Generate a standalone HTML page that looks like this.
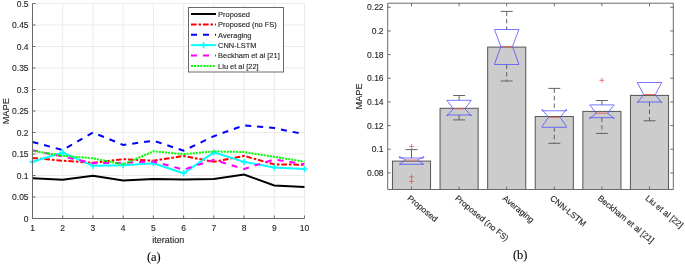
<!DOCTYPE html><html><head><meta charset="utf-8"><style>html,body{margin:0;padding:0;background:#fff;width:685px;height:266px;overflow:hidden}svg{display:block;filter:blur(0.3px)}text{stroke:#262626;stroke-width:0.12px}</style></head><body>
<svg width="685" height="266" viewBox="0 0 685 266">
<rect width="685" height="266" fill="#fff"/>
<path d="M62.72 3.5V218.5M92.94 3.5V218.5M123.17 3.5V218.5M153.39 3.5V218.5M183.61 3.5V218.5M213.83 3.5V218.5M244.06 3.5V218.5M274.28 3.5V218.5M304.50 3.5V218.5M32.5 197.00H304.5M32.5 175.50H304.5M32.5 154.00H304.5M32.5 132.50H304.5M32.5 111.00H304.5M32.5 89.50H304.5M32.5 68.00H304.5M32.5 46.50H304.5M32.5 25.00H304.5M32.5 3.50H304.5" stroke="#ebebeb" stroke-width="1" fill="none"/>
<polyline points="32.50,178.20 62.72,179.80 92.94,175.70 123.17,180.60 153.39,179.10 183.61,179.50 213.83,179.00 244.06,174.60 274.28,185.40 304.50,187.00" fill="none" stroke="#000" stroke-width="2"/>
<polyline points="32.50,158.00 62.72,160.70 92.94,162.80 123.17,159.20 153.39,160.70 183.61,156.00 213.83,161.80 244.06,155.90 274.28,164.40 304.50,164.70" fill="none" stroke="#ff0000" stroke-width="2" stroke-dasharray="5.6 1.9 2.6 1.9"/>
<polyline points="32.50,142.00 62.72,150.00 92.94,132.50 123.17,144.90 153.39,140.70 183.61,150.70 213.83,136.20 244.06,125.30 274.28,128.10 304.50,134.30" fill="none" stroke="#0000ff" stroke-width="2" stroke-dasharray="6 6"/>
<polyline points="32.50,161.70 62.72,152.60 92.94,165.80 123.17,165.30 153.39,163.30 183.61,173.30 213.83,152.40 244.06,161.90 274.28,167.50 304.50,169.00" fill="none" stroke="#00ffff" stroke-width="2"/>
<path d="M29.50 161.70h6M32.50 158.70v6M59.72 152.60h6M62.72 149.60v6M89.94 165.80h6M92.94 162.80v6M120.17 165.30h6M123.17 162.30v6M150.39 163.30h6M153.39 160.30v6M180.61 173.30h6M183.61 170.30v6M210.83 152.40h6M213.83 149.40v6M241.06 161.90h6M244.06 158.90v6M271.28 167.50h6M274.28 164.50v6M301.50 169.00h6M304.50 166.00v6" stroke="#00ffff" stroke-width="1.6" fill="none"/>
<polyline points="32.50,150.30 62.72,156.50 92.94,163.20 123.17,162.80 153.39,161.50 183.61,169.60 213.83,159.80 244.06,169.00 274.28,159.40 304.50,164.30" fill="none" stroke="#ff00ff" stroke-width="2" stroke-dasharray="6 6"/>
<polyline points="32.50,150.80 62.72,155.80 92.94,158.30 123.17,164.40 153.39,151.30 183.61,154.10 213.83,151.50 244.06,152.00 274.28,156.80 304.50,161.70" fill="none" stroke="#00ff00" stroke-width="2" stroke-dasharray="2 1.1"/>
<path d="M32.5 3.5V218.5H304.5M32.5 218.50h3M32.5 197.00h3M32.5 175.50h3M32.5 154.00h3M32.5 132.50h3M32.5 111.00h3M32.5 89.50h3M32.5 68.00h3M32.5 46.50h3M32.5 25.00h3M32.5 3.50h3M32.50 218.5v-3M62.72 218.5v-3M92.94 218.5v-3M123.17 218.5v-3M153.39 218.5v-3M183.61 218.5v-3M213.83 218.5v-3M244.06 218.5v-3M274.28 218.5v-3M304.50 218.5v-3" stroke="#6a6a6a" stroke-width="1" fill="none"/>
<text transform="translate(28.6 221.80)" text-anchor="end" font-family='"Liberation Sans", sans-serif' font-size="8.5" fill="#262626">0</text>
<text transform="translate(28.6 200.30)" text-anchor="end" font-family='"Liberation Sans", sans-serif' font-size="8.5" fill="#262626">0.05</text>
<text transform="translate(28.6 178.80)" text-anchor="end" font-family='"Liberation Sans", sans-serif' font-size="8.5" fill="#262626">0.1</text>
<text transform="translate(28.6 157.30)" text-anchor="end" font-family='"Liberation Sans", sans-serif' font-size="8.5" fill="#262626">0.15</text>
<text transform="translate(28.6 135.80)" text-anchor="end" font-family='"Liberation Sans", sans-serif' font-size="8.5" fill="#262626">0.2</text>
<text transform="translate(28.6 114.30)" text-anchor="end" font-family='"Liberation Sans", sans-serif' font-size="8.5" fill="#262626">0.25</text>
<text transform="translate(28.6 92.80)" text-anchor="end" font-family='"Liberation Sans", sans-serif' font-size="8.5" fill="#262626">0.3</text>
<text transform="translate(28.6 71.30)" text-anchor="end" font-family='"Liberation Sans", sans-serif' font-size="8.5" fill="#262626">0.35</text>
<text transform="translate(28.6 49.80)" text-anchor="end" font-family='"Liberation Sans", sans-serif' font-size="8.5" fill="#262626">0.4</text>
<text transform="translate(28.6 28.30)" text-anchor="end" font-family='"Liberation Sans", sans-serif' font-size="8.5" fill="#262626">0.45</text>
<text transform="translate(28.6 6.80)" text-anchor="end" font-family='"Liberation Sans", sans-serif' font-size="8.5" fill="#262626">0.5</text>
<text transform="translate(32.50 230.6)" text-anchor="middle" font-family='"Liberation Sans", sans-serif' font-size="8.5" fill="#262626">1</text>
<text transform="translate(62.72 230.6)" text-anchor="middle" font-family='"Liberation Sans", sans-serif' font-size="8.5" fill="#262626">2</text>
<text transform="translate(92.94 230.6)" text-anchor="middle" font-family='"Liberation Sans", sans-serif' font-size="8.5" fill="#262626">3</text>
<text transform="translate(123.17 230.6)" text-anchor="middle" font-family='"Liberation Sans", sans-serif' font-size="8.5" fill="#262626">4</text>
<text transform="translate(153.39 230.6)" text-anchor="middle" font-family='"Liberation Sans", sans-serif' font-size="8.5" fill="#262626">5</text>
<text transform="translate(183.61 230.6)" text-anchor="middle" font-family='"Liberation Sans", sans-serif' font-size="8.5" fill="#262626">6</text>
<text transform="translate(213.83 230.6)" text-anchor="middle" font-family='"Liberation Sans", sans-serif' font-size="8.5" fill="#262626">7</text>
<text transform="translate(244.06 230.6)" text-anchor="middle" font-family='"Liberation Sans", sans-serif' font-size="8.5" fill="#262626">8</text>
<text transform="translate(274.28 230.6)" text-anchor="middle" font-family='"Liberation Sans", sans-serif' font-size="8.5" fill="#262626">9</text>
<text transform="translate(304.50 230.6)" text-anchor="middle" font-family='"Liberation Sans", sans-serif' font-size="8.5" fill="#262626">10</text>
<text x="168.2" y="242.6" text-anchor="middle" font-family='"Liberation Sans", sans-serif' font-size="9" fill="#262626">iteration</text>
<text transform="translate(8.5 111.2) rotate(-90)" x="0" y="0" text-anchor="middle" font-family='"Liberation Sans", sans-serif' font-size="9.3" fill="#262626">MAPE</text>
<text x="153.8" y="260.7" text-anchor="middle" font-family='"Liberation Serif", serif' font-size="12.4" fill="#000">(a)</text>
<rect x="188.5" y="7.5" width="95" height="64.5" fill="#fff" stroke="#6a6a6a" stroke-width="1"/>
<path d="M191 14.00H216" stroke="#000" stroke-width="2" fill="none"/>
<text x="218.1" y="16.90" font-family='"Liberation Sans", sans-serif' font-size="7.45" fill="#262626">Proposed</text>
<path d="M191 24.38H216" stroke="#ff0000" stroke-width="2" stroke-dasharray="5.6 1.9 2.6 1.9" fill="none"/>
<text x="218.1" y="27.28" font-family='"Liberation Sans", sans-serif' font-size="7.45" fill="#262626">Proposed (no FS)</text>
<path d="M191 34.76H216" stroke="#0000ff" stroke-width="2" stroke-dasharray="6 6" fill="none"/>
<text x="218.1" y="37.66" font-family='"Liberation Sans", sans-serif' font-size="7.45" fill="#262626">Averaging</text>
<path d="M191 45.14H216" stroke="#00ffff" stroke-width="2" fill="none"/>
<path d="M200.6 45.14h6M203.6 42.14v6" stroke="#00ffff" stroke-width="1.6" fill="none"/>
<text x="218.1" y="48.04" font-family='"Liberation Sans", sans-serif' font-size="7.45" fill="#262626">CNN-LSTM</text>
<path d="M191 55.52H216" stroke="#ff00ff" stroke-width="2" stroke-dasharray="6 6" fill="none"/>
<text x="218.1" y="58.42" font-family='"Liberation Sans", sans-serif' font-size="7.45" fill="#262626">Beckham et al [21]</text>
<path d="M191 65.90H216" stroke="#00ff00" stroke-width="2" stroke-dasharray="2 1.1" fill="none"/>
<text x="218.1" y="68.80" font-family='"Liberation Sans", sans-serif' font-size="7.45" fill="#262626">Liu et al [22]</text>
<rect x="392.45" y="161.10" width="38.1" height="28.40" fill="#cccccc" stroke="#555" stroke-width="1"/>
<rect x="440.05" y="108.30" width="38.1" height="81.20" fill="#cccccc" stroke="#555" stroke-width="1"/>
<rect x="487.65" y="47.10" width="38.1" height="142.40" fill="#cccccc" stroke="#555" stroke-width="1"/>
<rect x="535.25" y="116.50" width="38.1" height="73.00" fill="#cccccc" stroke="#555" stroke-width="1"/>
<rect x="582.85" y="111.40" width="38.1" height="78.10" fill="#cccccc" stroke="#555" stroke-width="1"/>
<rect x="630.45" y="95.40" width="38.1" height="94.10" fill="#cccccc" stroke="#555" stroke-width="1"/>
<path d="M411.50 149.60V158.00" stroke="#555" stroke-width="0.9" fill="none"/>
<path d="M405.50 149.60h12.0" stroke="#555" stroke-width="0.9" fill="none"/>
<path d="M399.25 164.30L399.25 164.30L405.70 160.00L399.25 156.50L399.25 158.00L423.75 158.00L423.75 156.50L417.30 160.00L423.75 164.30L423.75 164.30Z" stroke="#4a4aff" stroke-width="0.75" fill="none"/>
<path d="M405.70 160.00H417.30" stroke="#e25a5a" stroke-width="0.9" fill="none"/>
<path d="M409.00 146.40h5M411.50 143.90v5" stroke="#e64a4a" stroke-width="0.7" fill="none"/>
<path d="M409.00 176.90h5M411.50 174.40v5" stroke="#e64a4a" stroke-width="0.7" fill="none"/>
<path d="M409.00 181.40h5M411.50 178.90v5" stroke="#e64a4a" stroke-width="0.7" fill="none"/>
<path d="M459.10 95.50V100.30M459.10 115.00V119.90" stroke="#555" stroke-width="0.9" fill="none"/>
<path d="M453.10 95.50h12.0M453.10 119.90h12.0" stroke="#555" stroke-width="0.9" fill="none"/>
<path d="M446.85 115.00L446.85 115.90L453.30 108.80L446.85 100.30L446.85 100.30L471.35 100.30L471.35 100.30L464.90 108.80L471.35 115.90L471.35 115.00Z" stroke="#4a4aff" stroke-width="0.75" fill="none"/>
<path d="M453.30 108.80H464.90" stroke="#e25a5a" stroke-width="0.9" fill="none"/>
<path d="M506.70 11.40V29.50M506.70 64.50V81.00" stroke="#555" stroke-width="0.9" stroke-dasharray="4.5 3" fill="none"/>
<path d="M500.70 11.40h12.0M500.70 81.00h12.0" stroke="#555" stroke-width="0.9" fill="none"/>
<path d="M494.45 64.50L494.45 64.50L500.90 46.40L494.45 29.50L494.45 29.50L518.95 29.50L518.95 29.50L512.50 46.40L518.95 64.50L518.95 64.50Z" stroke="#4a4aff" stroke-width="0.75" fill="none"/>
<path d="M500.90 46.40H512.50" stroke="#e25a5a" stroke-width="0.9" fill="none"/>
<path d="M554.30 88.40V110.80M554.30 127.30V143.30" stroke="#555" stroke-width="0.9" stroke-dasharray="4.5 3" fill="none"/>
<path d="M548.30 88.40h12.0M548.30 143.30h12.0" stroke="#555" stroke-width="0.9" fill="none"/>
<path d="M542.05 127.30L542.05 126.50L548.50 117.30L542.05 109.30L542.05 110.80L566.55 110.80L566.55 109.30L560.10 117.30L566.55 126.50L566.55 127.30Z" stroke="#4a4aff" stroke-width="0.75" fill="none"/>
<path d="M548.50 117.30H560.10" stroke="#e25a5a" stroke-width="0.9" fill="none"/>
<path d="M601.90 100.50V104.90M601.90 117.70V133.40" stroke="#555" stroke-width="0.9" stroke-dasharray="4.5 3" fill="none"/>
<path d="M595.90 100.50h12.0M595.90 133.40h12.0" stroke="#555" stroke-width="0.9" fill="none"/>
<path d="M589.65 117.70L589.65 118.70L596.10 113.20L589.65 104.90L589.65 104.90L614.15 104.90L614.15 104.90L607.70 113.20L614.15 118.70L614.15 117.70Z" stroke="#4a4aff" stroke-width="0.75" fill="none"/>
<path d="M596.10 113.20H607.70" stroke="#e25a5a" stroke-width="0.9" fill="none"/>
<path d="M599.40 80.30h5M601.90 77.80v5" stroke="#e64a4a" stroke-width="0.7" fill="none"/>
<path d="M649.50 102.00V120.80" stroke="#555" stroke-width="0.9" stroke-dasharray="4.5 3" fill="none"/>
<path d="M643.50 120.80h12.0" stroke="#555" stroke-width="0.9" fill="none"/>
<path d="M637.25 102.00L637.25 102.90L643.70 94.50L637.25 82.50L637.25 82.50L661.75 82.50L661.75 82.50L655.30 94.50L661.75 102.90L661.75 102.00Z" stroke="#4a4aff" stroke-width="0.75" fill="none"/>
<path d="M643.70 94.50H655.30" stroke="#e25a5a" stroke-width="0.9" fill="none"/>
<path d="M387.7 3.2H673.3V189.5H387.7ZM387.7 172.90h3M673.3 172.90h-3M387.7 149.24h3M673.3 149.24h-3M387.7 125.58h3M673.3 125.58h-3M387.7 101.92h3M673.3 101.92h-3M387.7 78.26h3M673.3 78.26h-3M387.7 54.60h3M673.3 54.60h-3M387.7 30.94h3M673.3 30.94h-3M387.7 7.28h3M673.3 7.28h-3M411.50 189.5v-3M411.50 3.2v3M459.10 189.5v-3M459.10 3.2v3M506.70 189.5v-3M506.70 3.2v3M554.30 189.5v-3M554.30 3.2v3M601.90 189.5v-3M601.90 3.2v3M649.50 189.5v-3M649.50 3.2v3" stroke="#6a6a6a" stroke-width="1" fill="none"/>
<text x="383.6" y="175.90" text-anchor="end" font-family='"Liberation Sans", sans-serif' font-size="8.5" fill="#262626">0.08</text>
<text x="383.6" y="152.24" text-anchor="end" font-family='"Liberation Sans", sans-serif' font-size="8.5" fill="#262626">0.1</text>
<text x="383.6" y="128.58" text-anchor="end" font-family='"Liberation Sans", sans-serif' font-size="8.5" fill="#262626">0.12</text>
<text x="383.6" y="104.92" text-anchor="end" font-family='"Liberation Sans", sans-serif' font-size="8.5" fill="#262626">0.14</text>
<text x="383.6" y="81.26" text-anchor="end" font-family='"Liberation Sans", sans-serif' font-size="8.5" fill="#262626">0.16</text>
<text x="383.6" y="57.60" text-anchor="end" font-family='"Liberation Sans", sans-serif' font-size="8.5" fill="#262626">0.18</text>
<text x="383.6" y="33.94" text-anchor="end" font-family='"Liberation Sans", sans-serif' font-size="8.5" fill="#262626">0.2</text>
<text x="383.6" y="10.28" text-anchor="end" font-family='"Liberation Sans", sans-serif' font-size="8.5" fill="#262626">0.22</text>
<text transform="translate(410.30 194.9) rotate(39.5)" x="0" y="5.5" font-family='"Liberation Sans", sans-serif' font-size="8.45" fill="#262626">Proposed</text>
<text transform="translate(457.90 194.9) rotate(39.5)" x="0" y="5.5" font-family='"Liberation Sans", sans-serif' font-size="8.45" fill="#262626">Proposed (no FS)</text>
<text transform="translate(505.50 194.9) rotate(39.5)" x="0" y="5.5" font-family='"Liberation Sans", sans-serif' font-size="8.45" fill="#262626">Averaging</text>
<text transform="translate(553.10 194.9) rotate(39.5)" x="0" y="5.5" font-family='"Liberation Sans", sans-serif' font-size="8.45" fill="#262626">CNN-LSTM</text>
<text transform="translate(600.70 194.9) rotate(39.5)" x="0" y="5.5" font-family='"Liberation Sans", sans-serif' font-size="8.45" fill="#262626">Beckham et al [21]</text>
<text transform="translate(648.30 194.9) rotate(39.5)" x="0" y="5.5" font-family='"Liberation Sans", sans-serif' font-size="8.45" fill="#262626">Liu et al [22]</text>
<text transform="translate(361.8 96.4) rotate(-90)" x="0" y="0" text-anchor="middle" font-family='"Liberation Sans", sans-serif' font-size="9.2" fill="#262626">MAPE</text>
<text x="520.2" y="258.5" text-anchor="middle" font-family='"Liberation Serif", serif' font-size="12.4" fill="#000">(b)</text>
</svg></body></html>
